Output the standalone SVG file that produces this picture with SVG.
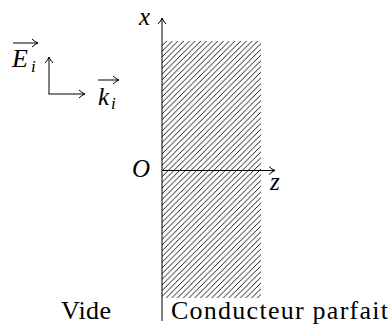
<svg xmlns="http://www.w3.org/2000/svg" width="390" height="324" viewBox="0 0 390 324">
<style>
.ln{stroke:#000;stroke-width:1;fill:none}
</style>
<defs>
<pattern id="hatch" patternUnits="userSpaceOnUse" x="162" y="0" width="5.7" height="5.7">
<path d="M-1,1 l2,-2 M0,5.7 l5.7,-5.7 M4.7,6.7 l2,-2" stroke="#000" stroke-width="0.9"/>
</pattern>
<marker id="ah" markerWidth="10" markerHeight="10" refX="7" refY="5" orient="auto" markerUnits="userSpaceOnUse">
<path d="M1,1 Q4,4 7,5 Q4,6 1,9" class="ln"/>
</marker>
</defs>
<g id="conductor">
<rect x="162" y="41" width="99" height="257" fill="url(#hatch)"/>
</g>
<g id="connectors">
<line x1="162" y1="321" x2="162" y2="18" class="ln" marker-end="url(#ah)"/>
<line x1="162" y1="170.5" x2="275" y2="170.5" class="ln" marker-end="url(#ah)"/>
<line x1="49" y1="94" x2="49" y2="57" class="ln" marker-end="url(#ah)"/>
<line x1="48.5" y1="94" x2="85" y2="94" class="ln" marker-end="url(#ah)"/>
</g>
<g id="labels" font-family="'Liberation Serif', serif" fill="#000">
<g font-style="italic" font-size="25">
<text id="x-label" x="139" y="25">x</text>
<text id="O-label" x="132" y="177">O</text>
<text id="z-label" x="270" y="190">z</text>
</g>
<g id="Ei" font-style="italic">
<text x="12" y="67" font-size="26">E</text>
<text x="31" y="72" font-size="17">i</text>
<line x1="13" y1="43" x2="38" y2="43" class="ln" marker-end="url(#ah)"/>
</g>
<g id="ki" font-style="italic">
<text x="98" y="105" font-size="25">k</text>
<text x="111" y="109" font-size="17">i</text>
<line x1="98" y1="80" x2="119" y2="80" class="ln" marker-end="url(#ah)"/>
</g>
<g font-size="26">
<text id="vide" x="61" y="319" textLength="50" lengthAdjust="spacing">Vide</text>
<text id="conducteur" x="171" y="319" textLength="217" lengthAdjust="spacing">Conducteur parfait</text>
</g>
</g>
</svg>
